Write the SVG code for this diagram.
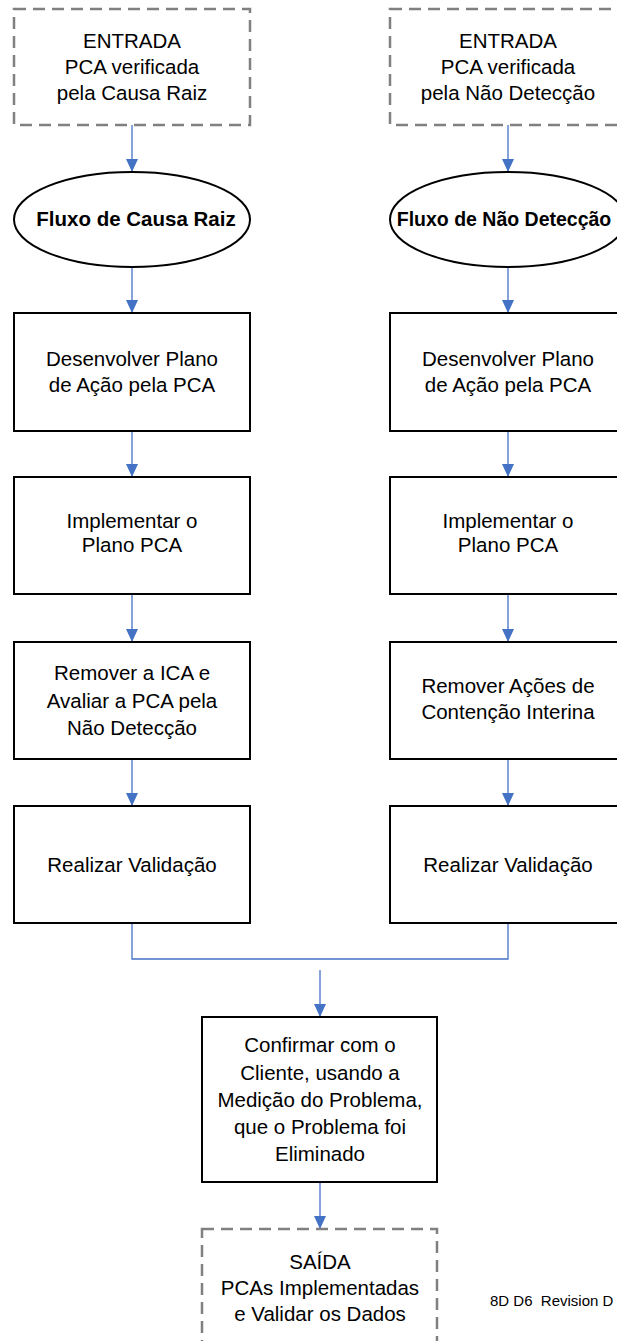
<svg xmlns="http://www.w3.org/2000/svg" width="617" height="1341" viewBox="0 0 617 1341">
<defs>
<marker id="ah" markerUnits="userSpaceOnUse" markerWidth="13" markerHeight="13" refX="13" refY="6.5" orient="auto">
<path d="M0,0.5 L13,6.5 L0,12.5 z" fill="#4472C4"/>
</marker>
<style>
.dash{fill:#fff;stroke:#808080;stroke-width:2.5;stroke-dasharray:12 7}
.box{fill:#fff;stroke:#000;stroke-width:2}
.ell{fill:#fff;stroke:#000;stroke-width:2}
.t{font-family:"Liberation Sans",Arial,sans-serif;font-size:20.5px;fill:#000;text-anchor:middle}
.b{font-weight:bold}
.con{fill:none;stroke:#4472C4;stroke-width:1.3}
.arr{marker-end:url(#ah)}
.note{font-family:"Liberation Sans",Arial,sans-serif;font-size:15px;fill:#000;white-space:pre}
</style>
</defs>
<rect width="617" height="1341" fill="#fff"/>
<g id="connectors">
<line class="con arr" x1="132" y1="125" x2="132" y2="172"/>
<line class="con arr" x1="132" y1="267" x2="132" y2="313"/>
<line class="con arr" x1="132" y1="431" x2="132" y2="477"/>
<line class="con arr" x1="132" y1="594" x2="132" y2="642"/>
<line class="con arr" x1="132" y1="759" x2="132" y2="806"/>
<line class="con arr" x1="508" y1="125" x2="508" y2="172"/>
<line class="con arr" x1="508" y1="267" x2="508" y2="313"/>
<line class="con arr" x1="508" y1="431" x2="508" y2="477"/>
<line class="con arr" x1="508" y1="594" x2="508" y2="642"/>
<line class="con arr" x1="508" y1="759" x2="508" y2="806"/>
<polyline class="con" points="132,923 132,959 508,959 508,923"/>
<line class="con arr" x1="320" y1="970" x2="320" y2="1017"/>
<line class="con arr" x1="320" y1="1182" x2="320" y2="1229"/>
</g>
<g id="in-left">
<rect class="dash" x="14" y="9" width="236" height="116"/>
<text class="t" x="132" y="48">ENTRADA</text>
<text class="t" x="132" y="74">PCA verificada</text>
<text class="t" x="132" y="100">pela Causa Raiz</text>
</g>
<g id="in-right">
<rect class="dash" x="390" y="9" width="236" height="116"/>
<text class="t" x="508" y="48">ENTRADA</text>
<text class="t" x="508" y="74">PCA verificada</text>
<text class="t" x="508" y="100">pela Não Detecção</text>
</g>
<g id="flow-left">
<ellipse class="ell" cx="132" cy="219.5" rx="118" ry="47.5"/>
<text class="t b" x="136" y="226">Fluxo de Causa Raiz</text>
</g>
<g id="flow-right">
<ellipse class="ell" cx="508" cy="219.5" rx="118" ry="47.5"/>
<text class="t b" x="504" y="226" style="font-size:19.5px">Fluxo de Não Detecção</text>
</g>
<g id="dev-left">
<rect class="box" x="14" y="313" width="236" height="118"/>
<text class="t" x="132" y="366">Desenvolver Plano</text>
<text class="t" x="132" y="392">de Ação pela PCA</text>
</g>
<g id="dev-right">
<rect class="box" x="390" y="313" width="236" height="118"/>
<text class="t" x="508" y="366">Desenvolver Plano</text>
<text class="t" x="508" y="392">de Ação pela PCA</text>
</g>
<g id="impl-left">
<rect class="box" x="14" y="477" width="236" height="117"/>
<text class="t" x="132" y="528">Implementar o</text>
<text class="t" x="132" y="552">Plano PCA</text>
</g>
<g id="impl-right">
<rect class="box" x="390" y="477" width="236" height="117"/>
<text class="t" x="508" y="528">Implementar o</text>
<text class="t" x="508" y="552">Plano PCA</text>
</g>
<g id="rem-left">
<rect class="box" x="14" y="642" width="236" height="117"/>
<text class="t" x="132" y="680">Remover a ICA e</text>
<text class="t" x="132" y="708">Avaliar a PCA pela</text>
<text class="t" x="132" y="735">Não Detecção</text>
</g>
<g id="rem-right">
<rect class="box" x="390" y="642" width="236" height="117"/>
<text class="t" x="508" y="693">Remover Ações de</text>
<text class="t" x="508" y="719">Contenção Interina</text>
</g>
<g id="val-left">
<rect class="box" x="14" y="806" width="236" height="117"/>
<text class="t" x="132" y="872">Realizar Validação</text>
</g>
<g id="val-right">
<rect class="box" x="390" y="806" width="236" height="117"/>
<text class="t" x="508" y="872">Realizar Validação</text>
</g>
<g id="confirm">
<rect class="box" x="202" y="1017" width="235" height="165"/>
<text class="t" x="320" y="1052">Confirmar com o</text>
<text class="t" x="320" y="1080">Cliente, usando a</text>
<text class="t" x="320" y="1107">Medição do Problema,</text>
<text class="t" x="320" y="1134">que o Problema foi</text>
<text class="t" x="320" y="1161">Eliminado</text>
</g>
<g id="output">
<rect class="dash" x="202" y="1229" width="235" height="140"/>
<text class="t" x="320" y="1269">SAÍDA</text>
<text class="t" x="320" y="1295">PCAs Implementadas</text>
<text class="t" x="320" y="1321">e Validar os Dados</text>
</g>
<text class="note" x="490" y="1306">8D D6  Revision D</text>
</svg>
